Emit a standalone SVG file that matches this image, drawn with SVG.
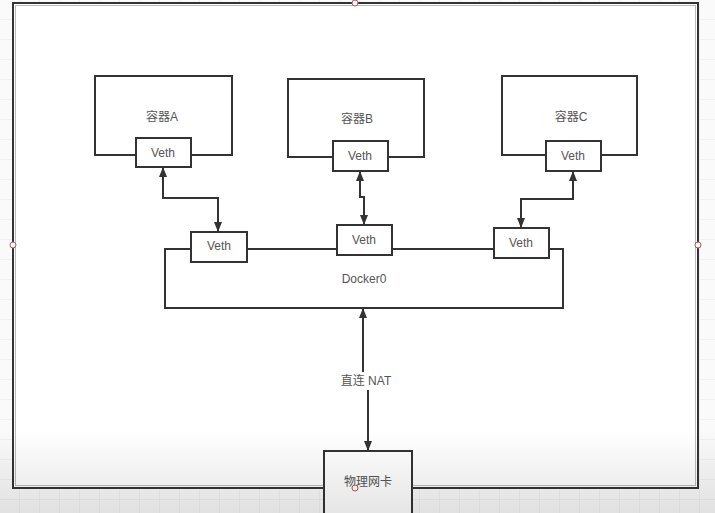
<svg xmlns="http://www.w3.org/2000/svg" width="715" height="513" viewBox="0 0 715 513">
<defs>
<pattern id="grid" width="20" height="20" patternUnits="userSpaceOnUse">
<rect width="20" height="20" fill="#fafafa"/>
<path d="M20 0 V20 M0 20 H20" stroke="#e6e6e6" stroke-width="1" fill="none"/>
</pattern>
<linearGradient id="shade" x1="0" y1="0" x2="0" y2="1">
<stop offset="0" stop-color="#000" stop-opacity="0"/>
<stop offset="1" stop-color="#000" stop-opacity="0.1"/>
</linearGradient>
<marker id="arr" viewBox="0 0 10 8" refX="9" refY="4" markerWidth="10" markerHeight="8" markerUnits="userSpaceOnUse" orient="auto-start-reverse">
<path d="M0 0 L10 4 L0 8 Z" fill="#333"/>
</marker>
<style>
.box{fill:#fff;stroke:#333;stroke-width:2}
.lbl{font-family:"Liberation Sans","Noto Sans CJK SC",sans-serif;font-size:12px;fill:#555;text-anchor:middle;dominant-baseline:central}
.con{fill:none;stroke:#333;stroke-width:2}
.h{fill:#fff;stroke:#c0504d;stroke-width:1}
</style>
</defs>
<rect width="715" height="513" fill="url(#grid)"/>
<g id="frame">
<rect x="13" y="3" width="685" height="485" fill="#fff" stroke="#333" stroke-width="2"/>
<rect x="15.5" y="5.5" width="680" height="480" fill="none" stroke="#bbb" stroke-width="1"/>
</g>
<g id="containerA">
<rect class="box" x="95" y="76" width="137" height="79"/>
<text class="lbl" x="162" y="117">容器A</text>
</g>
<g id="vethA">
<rect class="box" x="136" y="138" width="55" height="29"/>
<text class="lbl" x="163" y="153">Veth</text>
</g>
<g id="containerB">
<rect class="box" x="288" y="79" width="136" height="78"/>
<text class="lbl" x="357" y="119">容器B</text>
</g>
<g id="vethB">
<rect class="box" x="333" y="141" width="55" height="30"/>
<text class="lbl" x="360" y="156">Veth</text>
</g>
<g id="containerC">
<rect class="box" x="502" y="76" width="135" height="79"/>
<text class="lbl" x="571" y="117">容器C</text>
</g>
<g id="vethC">
<rect class="box" x="546" y="141" width="55" height="30"/>
<text class="lbl" x="573" y="156">Veth</text>
</g>
<g id="docker0">
<rect class="box" x="165" y="249" width="398" height="59"/>
<text class="lbl" x="364" y="279">Docker0</text>
</g>
<g id="veth1">
<rect class="box" x="191" y="232" width="56" height="30"/>
<text class="lbl" x="219" y="246">Veth</text>
</g>
<g id="veth2">
<rect class="box" x="337" y="225" width="55" height="30"/>
<text class="lbl" x="364" y="240">Veth</text>
</g>
<g id="veth3">
<rect class="box" x="494" y="228" width="55" height="30"/>
<text class="lbl" x="521" y="243">Veth</text>
</g>
<g id="nic">
<rect class="box" x="324" y="451" width="88" height="70"/>
<text class="lbl" x="368" y="482">物理网卡</text>
</g>
<g id="connectors">
<path class="con" d="M163 168 V198 H218 V231" marker-start="url(#arr)" marker-end="url(#arr)"/>
<path class="con" d="M360 172 V197 H364 V224" marker-start="url(#arr)" marker-end="url(#arr)"/>
<path class="con" d="M573 172 V199 H521 V227" marker-start="url(#arr)" marker-end="url(#arr)"/>
<path class="con" d="M363 372 V309" marker-end="url(#arr)"/>
<path class="con" d="M368 390 V450" marker-end="url(#arr)"/>
<text class="lbl" x="366" y="381">直连 NAT</text>
</g>
<g id="handles">
<circle class="h" cx="355" cy="3" r="3"/>
<circle class="h" cx="13" cy="245" r="3"/>
<circle class="h" cx="698" cy="245" r="3"/>
<circle class="h" cx="355" cy="488" r="3"/>
</g>
<rect x="0" y="430" width="715" height="83" fill="url(#shade)"/>
</svg>
